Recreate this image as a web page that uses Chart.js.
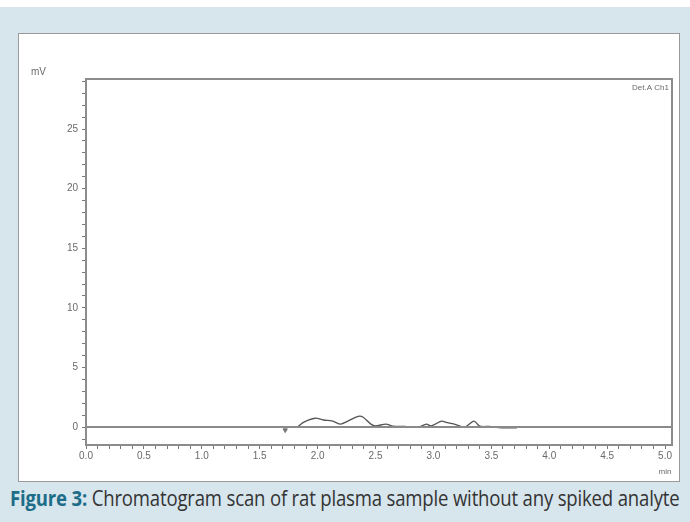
<!DOCTYPE html>
<html>
<head>
<meta charset="utf-8">
<script src="https://cdn.jsdelivr.net/npm/chart.js@4"></script>
<style>
  html, body { margin: 0; padding: 0; }
  body { width: 690px; height: 522px; background: #fff; position: relative; overflow: hidden; }
  #bg { position: absolute; left: 0; top: 7px; width: 690px; height: 515px; background: #d7e5ed; }
  #panel { position: absolute; left: 18px; top: 33px; width: 660px; height: 447px; background: #fff; border: 1px solid #9a9a9a; }
  #panel canvas { position: absolute; left: 0; top: 0; }
  #caption { position: absolute; left: 10px; top: 482px; width: 800px; font-family: "Open Sans", sans-serif; font-size: 22px; color: #333; white-space: nowrap; transform: scaleX(0.843); transform-origin: left top; letter-spacing: -0.2px; }
  #caption b { color: #1d6c88; }
</style>
</head>
<body>
<div id="bg"></div>
<div id="panel"><canvas id="chart" width="660" height="447"></canvas></div>
<div id="caption"><b>Figure 3:</b> Chromatogram scan of rat plasma sample without any spiked analyte</div>
<script>
// retention time (min) and detector signal (mV)
const timeMin = [1.80, 1.83, 1.87, 1.91, 1.98, 2.05, 2.13, 2.20, 2.26, 2.35, 2.39, 2.46, 2.50, 2.59, 2.65,
                 2.75, 2.87, 2.94, 2.98, 3.07, 3.11, 3.18, 3.27, 3.35, 3.40, 3.48, 3.59, 3.72];
const signalMv = [0.0, 0.05, 0.35, 0.55, 0.75, 0.6, 0.5, 0.25, 0.5, 0.9, 0.85, 0.25, 0.1, 0.25, 0.08,
                  0.05, 0.0, 0.25, 0.1, 0.5, 0.4, 0.25, 0.0, 0.5, 0.08, 0.05, -0.05, -0.05];
const baselineTime = [0, 5.06];
const baselineMv = [0, 0];
const markerTime = [1.72];
const markerMv = [-0.25];
const xLabelTicks = [0, 0.5, 1.0, 1.5, 2.0, 2.5, 3.0, 3.5, 4.0, 4.5, 5.0];
const yLabelTicks = [0, 5, 10, 15, 20, 25];

const toPoints = (xs, ys) => xs.map((x, i) => ({ x: x, y: ys[i] }));

const frame = {
    id: 'frame',
    afterDraw(chart) {
        const { ctx, chartArea } = chart;
        ctx.save();
        ctx.strokeStyle = '#8c8c8c';
        ctx.lineWidth = 2;
        ctx.strokeRect(chartArea.left, chartArea.top, chartArea.right - chartArea.left, chartArea.bottom - chartArea.top);
        ctx.fillStyle = '#6a6a6a';
        ctx.font = '10px "Liberation Sans", Arial, sans-serif';
        ctx.textBaseline = 'middle';
        ctx.textAlign = 'left';
        ctx.fillText('mV', chartArea.left - 55, chartArea.top - 7);
        ctx.textAlign = 'right';
        ctx.font = '8px "Liberation Sans", Arial, sans-serif';
        ctx.fillText('Det.A Ch1', chartArea.right - 3, chartArea.top + 9);
        ctx.textAlign = 'center';
        ctx.fillText('min', chart.scales.x.getPixelForValue(5.0), chartArea.bottom + 27);
        ctx.restore();
    }
};

new Chart(document.getElementById('chart'), {
    type: 'scatter',
    data: {
        datasets: [
            {
                data: toPoints(baselineTime, baselineMv),
                showLine: true,
                borderColor: '#8a8a8a',
                borderWidth: 2,
                pointRadius: 0
            },
            {
                data: toPoints(timeMin, signalMv),
                showLine: true,
                borderColor: '#555',
                borderWidth: 1.4,
                pointRadius: 0,
                tension: 0.3
            },
            {
                data: toPoints(markerTime, markerMv),
                showLine: false,
                pointStyle: 'triangle',
                rotation: 180,
                pointRadius: 2.5,
                backgroundColor: '#777',
                borderColor: '#777',
                borderWidth: 1
            }
        ]
    },
    options: {
        responsive: false,
        animation: false,
        layout: { padding: { left: 0, top: 45, right: 7, bottom: 0 } },
        plugins: { legend: { display: false }, tooltip: { enabled: false } },
        scales: {
            x: {
                type: 'linear',
                min: 0,
                max: 5.06,
                afterFit: s => { s.height = 36; },
                border: { display: true, color: '#8c8c8c', width: 2 },
                grid: { drawOnChartArea: false, drawTicks: true, tickLength: 4, color: '#777', lineWidth: 1 },
                ticks: {
                    stepSize: 0.1,
                    autoSkip: false,
                    includeBounds: false,
                    maxRotation: 0,
                    padding: 1,
                    color: '#6a6a6a',
                    font: { family: '"Liberation Sans", Arial, sans-serif', size: 10 },
                    callback: v => {
                        const hit = xLabelTicks.find(t => Math.abs(t - v) < 1e-6);
                        return hit === undefined ? '' : hit.toFixed(1);
                    }
                }
            },
            y: {
                min: -1.5,
                max: 29.2,
                afterFit: s => { s.width = 67; },
                border: { display: true, color: '#8c8c8c', width: 2 },
                grid: { drawOnChartArea: false, drawTicks: true, tickLength: 4, color: '#777', lineWidth: 1 },
                ticks: {
                    stepSize: 1,
                    autoSkip: false,
                    includeBounds: false,
                    padding: 4,
                    color: '#6a6a6a',
                    font: { family: '"Liberation Sans", Arial, sans-serif', size: 10 },
                    callback: v => yLabelTicks.includes(Math.round(v)) && Math.abs(v - Math.round(v)) < 1e-6 ? String(Math.round(v)) : ''
                }
            }
        }
    },
    plugins: [frame]
});
</script>
</body>
</html>
